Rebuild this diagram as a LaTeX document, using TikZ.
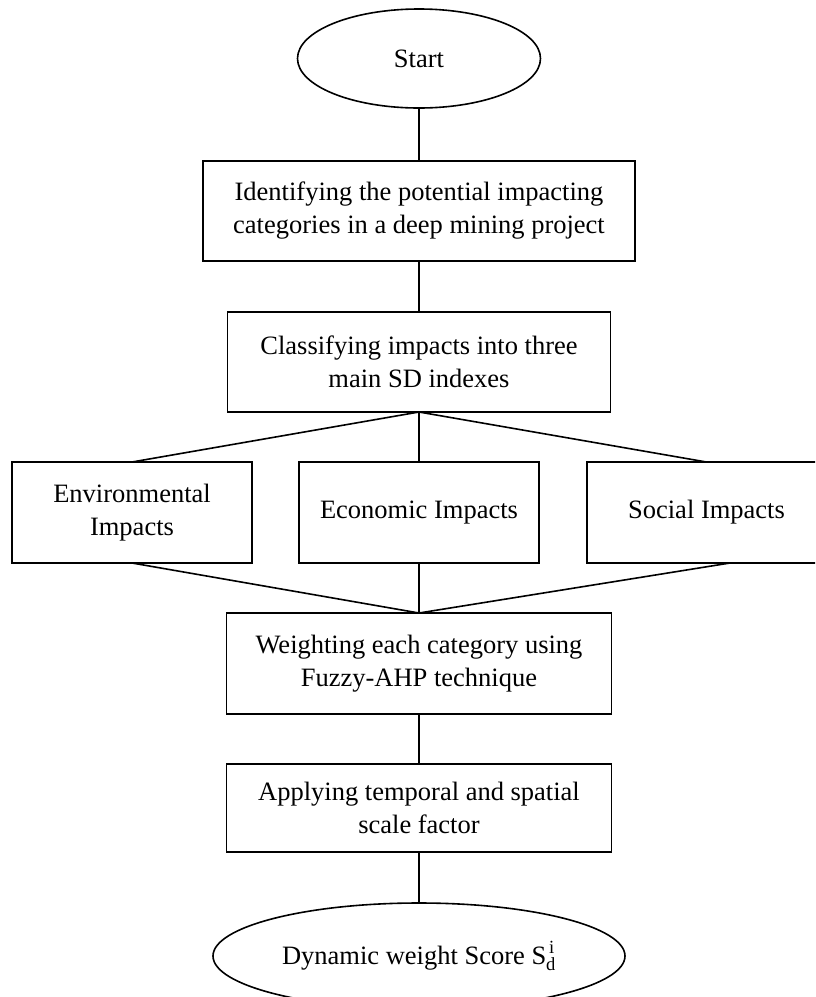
\documentclass[tikz,border=0pt]{standalone}
\usepackage{fontspec}
\usepackage{amsmath}
\setmainfont{Liberation Serif}
\usetikzlibrary{shapes.geometric,calc}

\tikzset{
  base/.style={draw=black, line width=1.6pt, fill=white, align=center,
    inner sep=2pt, outer sep=0pt,
    font=\fontsize{26.5}{33}\selectfont},
  procbox/.style={base, rectangle, minimum width=#1},
  terminal/.style={base, ellipse},
  link/.style={draw=black, line width=1.6pt},
}

\begin{document}
\begin{tikzpicture}[x=1pt, y=-1pt]
  \fill[white] (0,0) rectangle (815,997);
  \clip (0,0) rectangle (815,997);

  % main column
  \node[terminal, minimum width=243pt, minimum height=99pt] (start) at (419,58.5) {Start};
  \node[procbox=432pt, minimum height=100pt] (ident) at (419,211)
    {Identifying the potential impacting\\categories in a deep mining project};
  \node[procbox=383pt, minimum height=100pt] (classify) at (419,362)
    {Classifying impacts into three\\main SD indexes};

  % the three SD indexes
  \node[procbox=240pt, minimum height=101pt] (env) at (132,512.5)
    {Environmental\\Impacts};
  \node[procbox=240pt, minimum height=101pt] (econ) at (419,512.5)
    {Economic Impacts};
  \node[procbox=239pt, minimum height=101pt] (soc) at (706.5,512.5)
    {Social Impacts};

  % weighting and scaling
  \node[procbox=385pt, minimum height=101pt] (weight) at (419,663.5)
    {Weighting each category using\\Fuzzy-AHP technique};
  \node[procbox=385pt, minimum height=88pt] (apply) at (419,808)
    {Applying temporal and spatial\\scale factor};
  \node[terminal, minimum width=412pt, minimum height=106pt] (finish) at (419,956)
    {Dynamic weight Score $\text{S}_{\text{d}}^{\,\text{i}}$};

  % connectors
  \draw[link] (start.south) -- (ident.north);
  \draw[link] (ident.south) -- (classify.north);
  \draw[link] (classify.south) -- (env.north);
  \draw[link] (classify.south) -- (econ.north);
  \draw[link] (classify.south) -- (soc.north);
  \draw[link] (env.south) -- (weight.north);
  \draw[link] (econ.south) -- (weight.north);
  \draw[link] ($(soc.south)+(23.5,0)$) -- (weight.north);
  \draw[link] (weight.south) -- (apply.north);
  \draw[link] (apply.south) -- (finish.north);
\end{tikzpicture}
\end{document}
